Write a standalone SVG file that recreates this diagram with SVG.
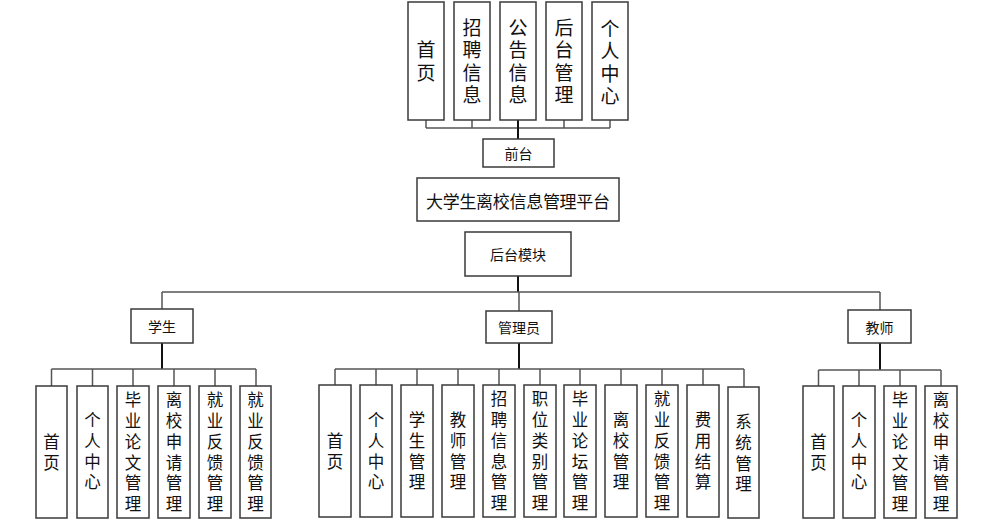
<svg xmlns="http://www.w3.org/2000/svg" width="992" height="524" viewBox="0 0 992 524">
<style>
.box{fill:#fff;stroke:#3a3a3a;stroke-width:1.5}
.t{font-family:"Noto Sans CJK SC","Liberation Sans",sans-serif;fill:#111;text-anchor:middle}
.h{dominant-baseline:central}
.v{writing-mode:vertical-rl;text-orientation:upright}
.top{font-size:19px;letter-spacing:3.6px}
.low{font-size:16.5px;letter-spacing:4.2px}
.hd{font-size:14px}
.c{fill:none;stroke:#555;stroke-width:1.5}
.k{fill:none;stroke:#111;stroke-width:2}
</style>
<rect width="992" height="524" fill="#fff"/>
<g id="connectors">
<path class="c" d="M426 120V128M472 120V128M564 120V128M610 120V128M426 128H610"/>
<path class="k" d="M518 120V139"/>
<path class="k" d="M518 276V292"/>
<path class="c" d="M162 292H880M162 292V309M519 292V311M880 292V310"/>
<path class="k" d="M162 343V369M519 343V369M880 343V370"/>
<path class="c" d="M51.5 369H256M51.5 369V386M92.5 369V386M133 369V386M174 369V386M215 369V386M256 369V386"/>
<path class="c" d="M335 369H744M335 369V385M376 369V385M417 369V385M458 369V385M499 369V385M540 369V385M580 369V385M621 369V385M662 369V385M703 369V385M744 369V387"/>
<path class="c" d="M818.5 370H941M818.5 370V386M859 370V386M900 370V386M941 370V386"/>
</g>
<g id="top-home"><rect class="box" x="408" y="2" width="36" height="118"/><text class="t v top" x="426" y="63">首页</text></g>
<g id="top-recruit"><rect class="box" x="454" y="2" width="36" height="118"/><text class="t v top" x="472" y="63">招聘信息</text></g>
<g id="top-notice"><rect class="box" x="500" y="2" width="36" height="118"/><text class="t v top" x="518" y="63">公告信息</text></g>
<g id="top-admin"><rect class="box" x="546" y="2" width="36" height="118"/><text class="t v top" x="564" y="63">后台管理</text></g>
<g id="top-personal"><rect class="box" x="592" y="2" width="36" height="118"/><text class="t v top" x="610" y="64">个人中心</text></g>
<g id="frontend"><rect class="box" x="483" y="139" width="71" height="28"/><text class="t h hd" x="518.5" y="153">前台</text></g>
<g id="platform"><rect class="box" x="417" y="178" width="202" height="43"/><text class="t h" style="font-size:17px" x="518" y="200" textLength="184" lengthAdjust="spacing">大学生离校信息管理平台</text></g>
<g id="backend"><rect class="box" x="465" y="232" width="106" height="44"/><text class="t h hd" x="518" y="254">后台模块</text></g>
<g id="student"><rect class="box" x="131" y="309" width="62" height="34"/><text class="t h hd" x="162" y="326">学生</text></g>
<g id="manager"><rect class="box" x="486" y="311" width="66" height="32"/><text class="t h hd" x="519" y="327">管理员</text></g>
<g id="teacher"><rect class="box" x="848" y="310" width="63" height="33"/><text class="t h hd" x="879.5" y="326.5">教师</text></g>

<g id="s1"><rect class="box" x="36" y="386" width="31" height="132"/><text class="t v low" x="51.5" y="454">首页</text></g>
<g id="s2"><rect class="box" x="77" y="386" width="31" height="132"/><text class="t v low" x="92.5" y="453">个人中心</text></g>
<g id="s3"><rect class="box" x="117" y="386" width="32" height="132"/><text class="t v low" x="133" y="454">毕业论文管理</text></g>
<g id="s4"><rect class="box" x="158" y="386" width="32" height="132"/><text class="t v low" x="174" y="454">离校申请管理</text></g>
<g id="s5"><rect class="box" x="199" y="386" width="32" height="132"/><text class="t v low" x="215" y="454">就业反馈管理</text></g>
<g id="s6"><rect class="box" x="240" y="386" width="31" height="132"/><text class="t v low" x="255.5" y="454">就业反馈管理</text></g>

<g id="m1"><rect class="box" x="319" y="385" width="32" height="132"/><text class="t v low" x="335" y="453">首页</text></g>
<g id="m2"><rect class="box" x="360" y="385" width="32" height="132"/><text class="t v low" x="376" y="453">个人中心</text></g>
<g id="m3"><rect class="box" x="401" y="385" width="32" height="132"/><text class="t v low" x="417" y="453">学生管理</text></g>
<g id="m4"><rect class="box" x="442" y="385" width="32" height="132"/><text class="t v low" x="458" y="453">教师管理</text></g>
<g id="m5"><rect class="box" x="483" y="385" width="32" height="132"/><text class="t v low" x="499" y="453">招聘信息管理</text></g>
<g id="m6"><rect class="box" x="524" y="385" width="32" height="132"/><text class="t v low" x="540" y="453">职位类别管理</text></g>
<g id="m7"><rect class="box" x="564" y="385" width="32" height="132"/><text class="t v low" x="580" y="453">毕业论坛管理</text></g>
<g id="m8"><rect class="box" x="605" y="385" width="32" height="132"/><text class="t v low" x="621" y="453">离校管理</text></g>
<g id="m9"><rect class="box" x="646" y="385" width="32" height="132"/><text class="t v low" x="662" y="453">就业反馈管理</text></g>
<g id="m10"><rect class="box" x="687" y="385" width="32" height="132"/><text class="t v low" x="703" y="453">费用结算</text></g>
<g id="m11"><rect class="box" x="728" y="387" width="31" height="131"/><text class="t v low" x="743.5" y="455">系统管理</text></g>

<g id="t1"><rect class="box" x="803" y="386" width="31" height="132"/><text class="t v low" x="818.5" y="454">首页</text></g>
<g id="t2"><rect class="box" x="843" y="386" width="32" height="132"/><text class="t v low" x="859" y="453">个人中心</text></g>
<g id="t3"><rect class="box" x="884" y="386" width="32" height="132"/><text class="t v low" x="900" y="454">毕业论文管理</text></g>
<g id="t4"><rect class="box" x="925" y="386" width="32" height="132"/><text class="t v low" x="941" y="454">离校申请管理</text></g>
</svg>
